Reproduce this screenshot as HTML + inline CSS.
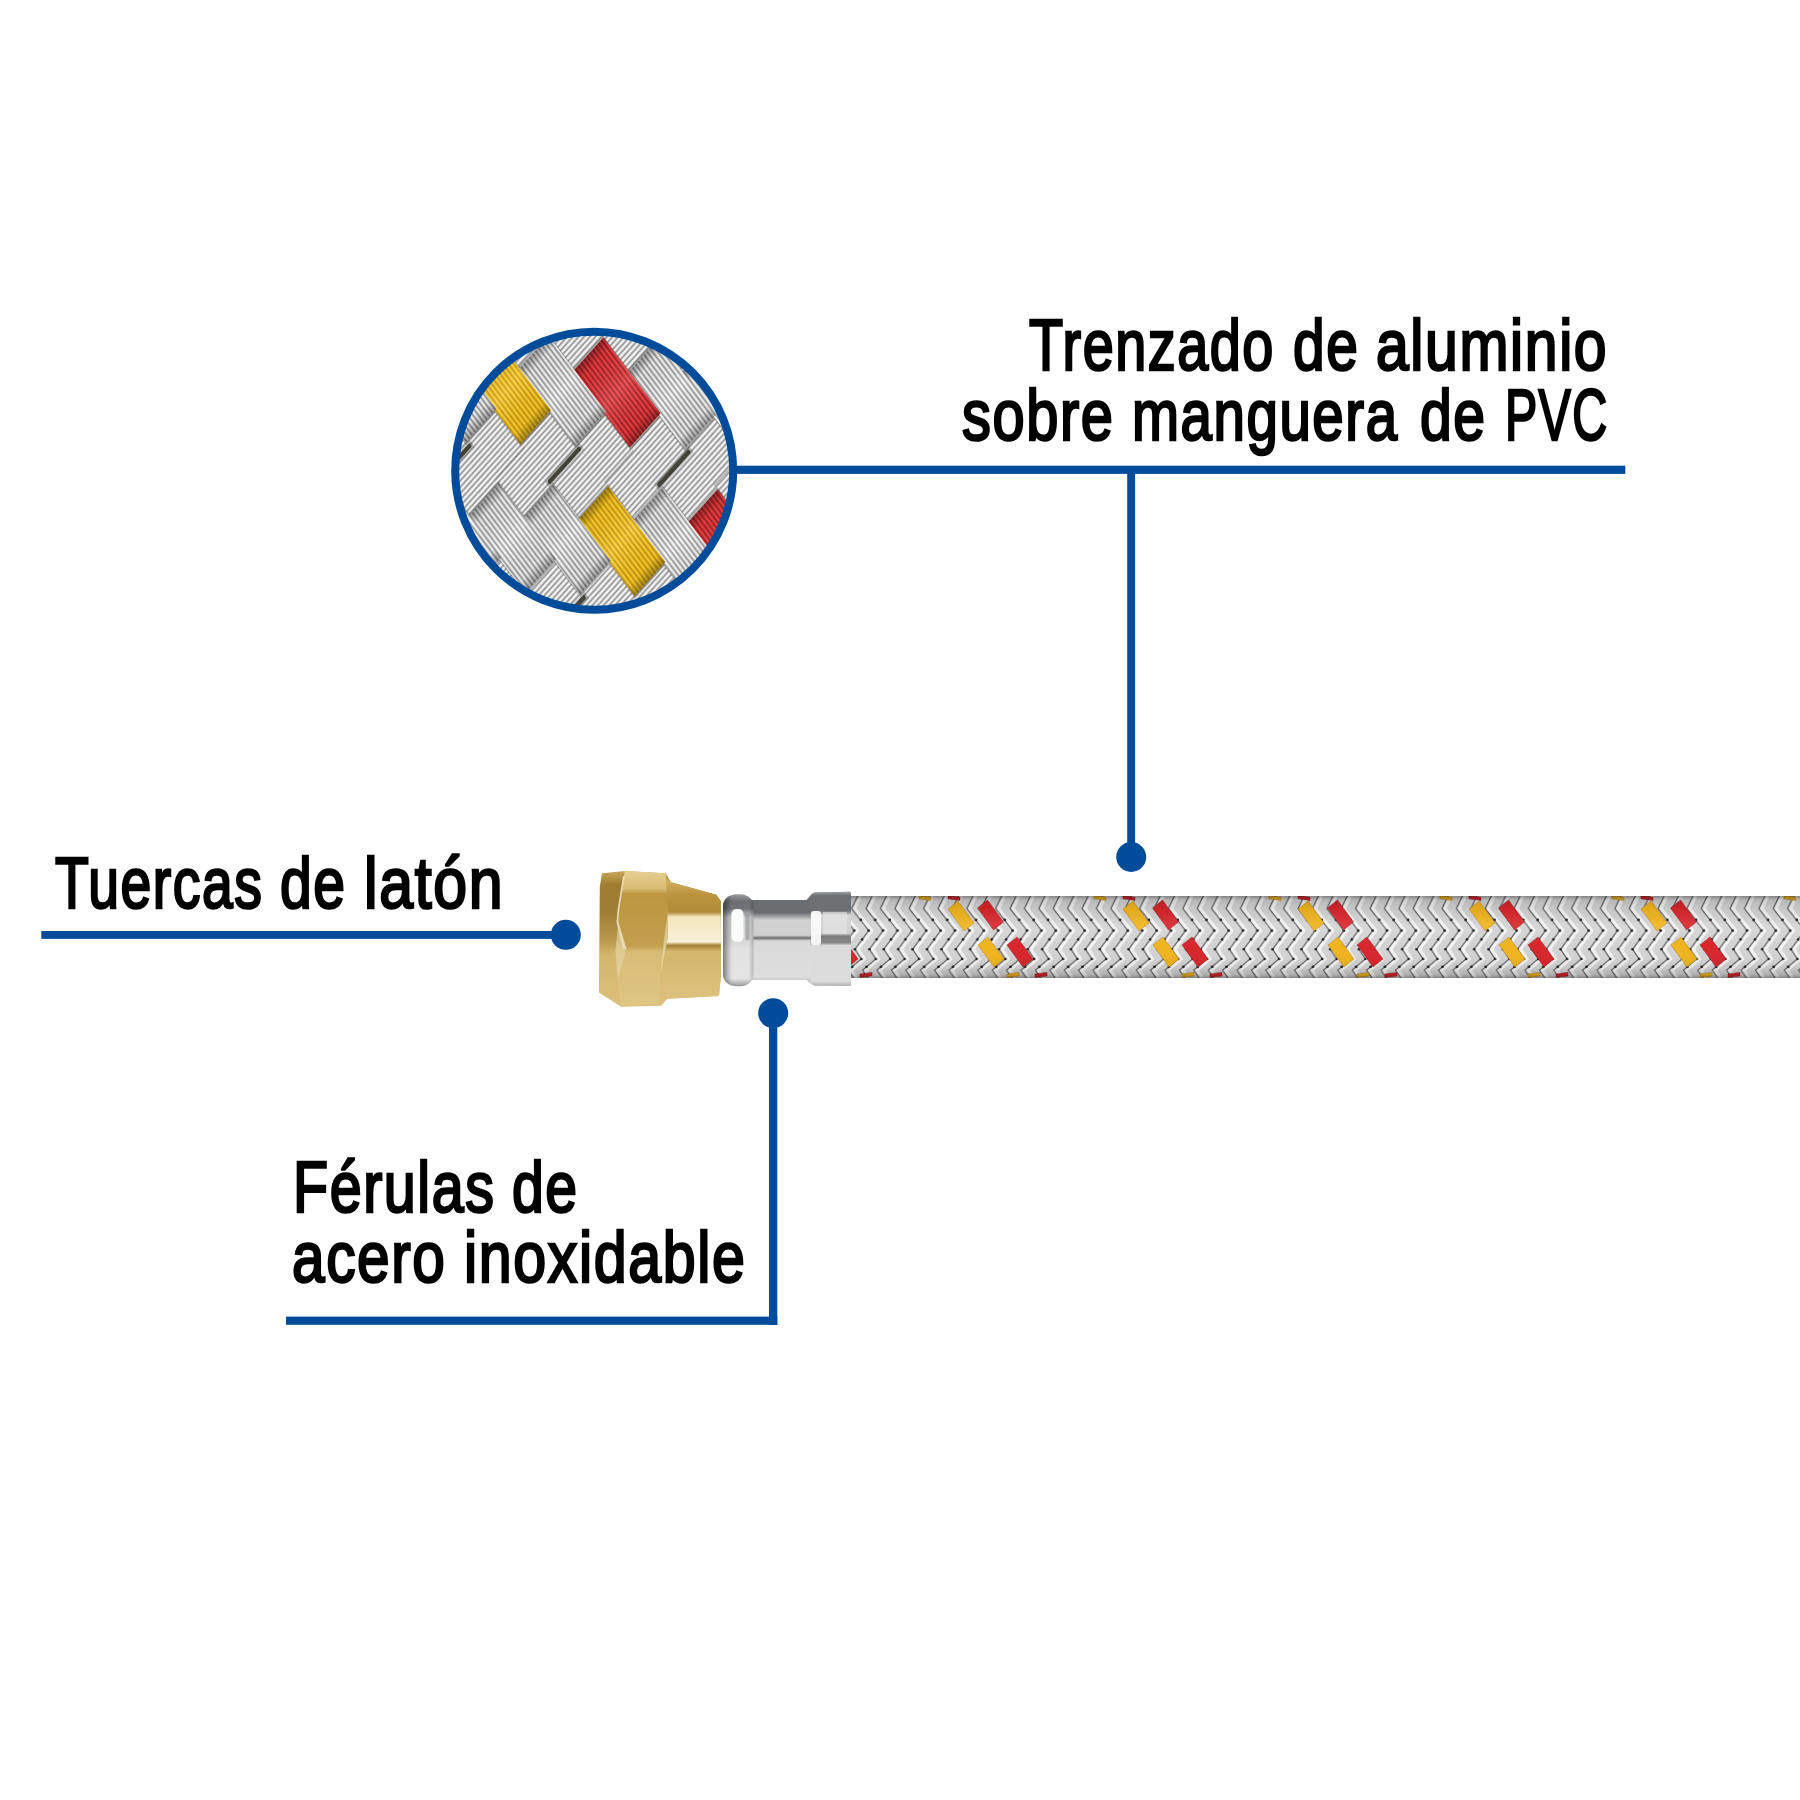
<!DOCTYPE html>
<html><head><meta charset="utf-8"><style>
html,body{margin:0;padding:0;background:#fff;}
body{width:1800px;height:1800px;position:relative;overflow:hidden;}
.t{position:absolute;font-family:"Liberation Sans",sans-serif;font-weight:normal;font-size:72.7px;line-height:72.7px;letter-spacing:2px;-webkit-text-stroke:2.6px #000;white-space:nowrap;color:#000;transform-origin:left top;}
svg{position:absolute;left:0;top:0;}
</style></head>
<body>
<svg width="1800" height="1800" viewBox="0 0 1800 1800">
<defs>
<clipPath id="cc"><circle cx="594.2" cy="470.7" r="139"/></clipPath>
<linearGradient id="floatg" x1="0" y1="0" x2="1" y2="0">
  <stop offset="0" stop-color="#000" stop-opacity="0.35"/>
  <stop offset="0.12" stop-color="#000" stop-opacity="0.05"/>
  <stop offset="0.5" stop-color="#fff" stop-opacity="0.12"/>
  <stop offset="0.88" stop-color="#000" stop-opacity="0.05"/>
  <stop offset="1" stop-color="#000" stop-opacity="0.35"/>
</linearGradient>
<linearGradient id="slitg" x1="0" y1="0" x2="1" y2="0">
  <stop offset="0" stop-color="#000" stop-opacity="0"/>
  <stop offset="0.5" stop-color="#000" stop-opacity="0.3"/>
  <stop offset="1" stop-color="#000" stop-opacity="0"/>
</linearGradient>
<linearGradient id="gx" x1="0" y1="0" x2="0" y2="1">
  <stop offset="0" stop-color="#6a6a6a"/><stop offset="0.22" stop-color="#d4d4d4"/><stop offset="0.45" stop-color="#fdfdfd"/><stop offset="0.8" stop-color="#dcdcdc"/><stop offset="1" stop-color="#6a6a6a"/>
</linearGradient>
<linearGradient id="gy" x1="0" y1="0" x2="1" y2="0">
  <stop offset="0" stop-color="#6a6a6a"/><stop offset="0.22" stop-color="#d4d4d4"/><stop offset="0.45" stop-color="#fdfdfd"/><stop offset="0.8" stop-color="#dcdcdc"/><stop offset="1" stop-color="#6a6a6a"/>
</linearGradient>
<linearGradient id="gxy" x1="0" y1="0" x2="0" y2="1">
  <stop offset="0" stop-color="#b8860c"/><stop offset="0.3" stop-color="#f2c11c"/><stop offset="0.5" stop-color="#fcd53a"/><stop offset="0.75" stop-color="#f0bd18"/><stop offset="1" stop-color="#b8860c"/>
</linearGradient>
<linearGradient id="gxr" x1="0" y1="0" x2="0" y2="1">
  <stop offset="0" stop-color="#8e1a1e"/><stop offset="0.3" stop-color="#dc3236"/><stop offset="0.5" stop-color="#ee4a4a"/><stop offset="0.75" stop-color="#d82e33"/><stop offset="1" stop-color="#8e1a1e"/>
</linearGradient>
<pattern id="rx" width="60" height="4.3" patternUnits="userSpaceOnUse"><rect width="60" height="4.3" fill="url(#gx)"/></pattern>
<pattern id="ry" width="4.3" height="60" patternUnits="userSpaceOnUse"><rect width="4.3" height="60" fill="url(#gy)"/></pattern>
<pattern id="rxy" width="60" height="4.3" patternUnits="userSpaceOnUse"><rect width="60" height="4.3" fill="url(#gxy)"/></pattern>
<pattern id="rxr" width="60" height="4.3" patternUnits="userSpaceOnUse"><rect width="60" height="4.3" fill="url(#gxr)"/></pattern>

<pattern id="hb" x="851.6" y="896" width="14.4" height="82" patternUnits="userSpaceOnUse">
  <rect width="14.4" height="82" fill="#d3d3d3"/>
  <g id="hbl">
  <path d="M9 0 L3 12.6 L20.1 34.6 L6.4 53.2 L12.8 63 L-0.4 74.2 L5 82" fill="none" stroke="#f3f3f3" stroke-width="3.2"/>
  <path d="M6 0 L0 12.6 L17.1 34.6 L3.4 53.2 L9.8 63 L-3.4 74.2 L2 82" fill="none" stroke="#5c5c5c" stroke-width="1.1"/>
  <g fill="#1f1f1f"><circle cx="9.3" cy="23.9" r="1.4"/><circle cx="17.1" cy="34.6" r="1.4"/><circle cx="10.6" cy="43.4" r="1.3"/><circle cx="3.4" cy="53.2" r="1.3"/><circle cx="9.8" cy="63" r="1.3"/><circle cx="0.6" cy="70.8" r="1.4"/></g>
  </g>
  <use href="#hbl" x="-14.4"/>
  <use href="#hbl" x="14.4"/>
</pattern>
<linearGradient id="hshade" x1="0" y1="0" x2="0" y2="1">
  <stop offset="0" stop-color="#000" stop-opacity="0.38"/>
  <stop offset="0.05" stop-color="#000" stop-opacity="0.14"/>
  <stop offset="0.15" stop-color="#000" stop-opacity="0.06"/>
  <stop offset="0.35" stop-color="#fff" stop-opacity="0.08"/>
  <stop offset="0.6" stop-color="#fff" stop-opacity="0"/>
  <stop offset="0.88" stop-color="#000" stop-opacity="0.06"/>
  <stop offset="0.96" stop-color="#000" stop-opacity="0.18"/>
  <stop offset="1" stop-color="#000" stop-opacity="0.38"/>
</linearGradient>
<clipPath id="hoseclip"><rect x="850.5" y="896" width="949.5" height="82"/></clipPath>
<linearGradient id="fg" x1="0" y1="892" x2="0" y2="986" gradientUnits="userSpaceOnUse">
  <stop offset="0" stop-color="#8d9194"/>
  <stop offset="0.05" stop-color="#6a6e71"/>
  <stop offset="0.22" stop-color="#686c6f"/>
  <stop offset="0.3" stop-color="#d2d2d2"/>
  <stop offset="0.46" stop-color="#cfcfcf"/>
  <stop offset="0.49" stop-color="#6f6f6f"/>
  <stop offset="0.52" stop-color="#d9d9d9"/>
  <stop offset="0.9" stop-color="#dedede"/>
  <stop offset="1" stop-color="#a9a9a9"/>
</linearGradient>
<linearGradient id="fbg" x1="0" y1="894" x2="0" y2="986" gradientUnits="userSpaceOnUse">
  <stop offset="0" stop-color="#9ca0a3"/>
  <stop offset="0.08" stop-color="#6c7073"/>
  <stop offset="0.16" stop-color="#71757a"/>
  <stop offset="0.26" stop-color="#cfd0d1"/>
  <stop offset="0.5" stop-color="#d6d6d6"/>
  <stop offset="0.6" stop-color="#e2e2e2"/>
  <stop offset="0.92" stop-color="#e4e4e4"/>
  <stop offset="1" stop-color="#9a9a9a"/>
</linearGradient>
<linearGradient id="fbx" x1="723" y1="0" x2="753.5" y2="0" gradientUnits="userSpaceOnUse">
  <stop offset="0" stop-color="#000" stop-opacity="0.45"/>
  <stop offset="0.18" stop-color="#000" stop-opacity="0.15"/>
  <stop offset="0.3" stop-color="#000" stop-opacity="0"/>
  <stop offset="0.85" stop-color="#000" stop-opacity="0"/>
  <stop offset="1" stop-color="#000" stop-opacity="0.2"/>
</linearGradient>
<linearGradient id="fgc" x1="0" y1="892" x2="0" y2="986" gradientUnits="userSpaceOnUse">
  <stop offset="0" stop-color="#9a9ea0"/>
  <stop offset="0.04" stop-color="#6c7073"/>
  <stop offset="0.2" stop-color="#6c7073"/>
  <stop offset="0.25" stop-color="#d8d8d8"/>
  <stop offset="0.44" stop-color="#d0d0d0"/>
  <stop offset="0.47" stop-color="#7b7b7b"/>
  <stop offset="0.54" stop-color="#8a8a8a"/>
  <stop offset="0.57" stop-color="#dadada"/>
  <stop offset="0.95" stop-color="#dcdcdc"/>
  <stop offset="1" stop-color="#b0b0b0"/>
</linearGradient>

<linearGradient id="ng" x1="0" y1="871" x2="0" y2="1007" gradientUnits="userSpaceOnUse">
  <stop offset="0" stop-color="#c9a75a"/>
  <stop offset="0.1" stop-color="#a07e30"/>
  <stop offset="0.3" stop-color="#9e7d35"/>
  <stop offset="0.5" stop-color="#b8964a"/>
  <stop offset="0.62" stop-color="#d4b66c"/>
  <stop offset="1" stop-color="#dcc07c"/>
</linearGradient>
<linearGradient id="ncone" x1="0" y1="880" x2="0" y2="999" gradientUnits="userSpaceOnUse">
  <stop offset="0" stop-color="#d4b263"/>
  <stop offset="0.12" stop-color="#bc9440"/>
  <stop offset="0.27" stop-color="#b08a36"/>
  <stop offset="0.31" stop-color="#f3e6bd"/>
  <stop offset="0.52" stop-color="#f8f0d8"/>
  <stop offset="0.55" stop-color="#a48034"/>
  <stop offset="0.6" stop-color="#d4b66c"/>
  <stop offset="1" stop-color="#ddc27e"/>
</linearGradient>
<linearGradient id="nhex" x1="0" y1="871" x2="0" y2="1007" gradientUnits="userSpaceOnUse">
  <stop offset="0" stop-color="#e6cf92"/>
  <stop offset="0.13" stop-color="#d8bb74"/>
  <stop offset="0.17" stop-color="#bd973f"/>
  <stop offset="0.55" stop-color="#c29f4e"/>
  <stop offset="0.6" stop-color="#d9bd76"/>
  <stop offset="1" stop-color="#dfc685"/>
</linearGradient>
</defs>

<g fill="#004c9a">
<rect x="737" y="465.7" width="888.3" height="8.2"/>
<rect x="1127.2" y="470" width="7.9" height="388"/>
<circle cx="1131.2" cy="857" r="15"/>
<rect x="41.3" y="931" width="525" height="7.9"/>
<circle cx="565.8" cy="934.8" r="15"/>
<rect x="769" y="1013" width="8.3" height="311.8"/>
<rect x="286" y="1316.6" width="491.3" height="8.2"/>
<circle cx="773.2" cy="1013.2" r="15"/>
</g>

<g clip-path="url(#cc)"><g transform="matrix(0.6018 0.7986 -0.6691 0.7431 594.2 470.7)">
<rect x="-260" y="-260" width="520" height="520" fill="url(#ry)"/>
<rect x="-109.8" y="-306" width="2" height="43.6" fill="#777" opacity="0.45"/>
<rect x="80.2" y="-306" width="2" height="43.6" fill="#777" opacity="0.45"/>
<rect x="270.2" y="-306" width="2" height="43.6" fill="#777" opacity="0.45"/>
<rect x="-157.3" y="-266.4" width="12" height="51.6" fill="url(#slitg)"/>
<rect x="-153.5" y="-264.4" width="4.4" height="47.6" rx="1.5" fill="#3a3a30" opacity="0.9"/>
<rect x="32.7" y="-266.4" width="12" height="51.6" fill="url(#slitg)"/>
<rect x="36.5" y="-264.4" width="4.4" height="47.6" rx="1.5" fill="#3a3a30" opacity="0.9"/>
<rect x="222.7" y="-266.4" width="12" height="51.6" fill="url(#slitg)"/>
<rect x="226.5" y="-264.4" width="4.4" height="47.6" rx="1.5" fill="#3a3a30" opacity="0.9"/>
<rect x="-194.8" y="-218.8" width="2" height="43.6" fill="#777" opacity="0.45"/>
<rect x="-4.8" y="-218.8" width="2" height="43.6" fill="#777" opacity="0.45"/>
<rect x="185.2" y="-218.8" width="2" height="43.6" fill="#777" opacity="0.45"/>
<rect x="375.2" y="-218.8" width="2" height="43.6" fill="#777" opacity="0.45"/>
<rect x="-52.3" y="-179.2" width="12" height="51.6" fill="url(#slitg)"/>
<rect x="-48.5" y="-177.2" width="4.4" height="47.6" rx="1.5" fill="#3a3a30" opacity="0.9"/>
<rect x="137.7" y="-179.2" width="12" height="51.6" fill="url(#slitg)"/>
<rect x="141.5" y="-177.2" width="4.4" height="47.6" rx="1.5" fill="#3a3a30" opacity="0.9"/>
<rect x="327.7" y="-179.2" width="12" height="51.6" fill="url(#slitg)"/>
<rect x="331.5" y="-177.2" width="4.4" height="47.6" rx="1.5" fill="#3a3a30" opacity="0.9"/>
<rect x="-89.8" y="-131.6" width="2" height="43.6" fill="#777" opacity="0.45"/>
<rect x="100.2" y="-131.6" width="2" height="43.6" fill="#777" opacity="0.45"/>
<rect x="290.2" y="-131.6" width="2" height="43.6" fill="#777" opacity="0.45"/>
<rect x="-137.3" y="-92" width="12" height="51.6" fill="url(#slitg)"/>
<rect x="-133.5" y="-90" width="4.4" height="47.6" rx="1.5" fill="#3a3a30" opacity="0.9"/>
<rect x="52.7" y="-92" width="12" height="51.6" fill="url(#slitg)"/>
<rect x="56.5" y="-90" width="4.4" height="47.6" rx="1.5" fill="#3a3a30" opacity="0.9"/>
<rect x="242.7" y="-92" width="12" height="51.6" fill="url(#slitg)"/>
<rect x="246.5" y="-90" width="4.4" height="47.6" rx="1.5" fill="#3a3a30" opacity="0.9"/>
<rect x="-174.8" y="-44.4" width="2" height="43.6" fill="#777" opacity="0.45"/>
<rect x="15.2" y="-44.4" width="2" height="43.6" fill="#777" opacity="0.45"/>
<rect x="205.2" y="-44.4" width="2" height="43.6" fill="#777" opacity="0.45"/>
<rect x="-32.3" y="-4.8" width="12" height="51.6" fill="url(#slitg)"/>
<rect x="-28.5" y="-2.8" width="4.4" height="47.6" rx="1.5" fill="#3a3a30" opacity="0.9"/>
<rect x="157.7" y="-4.8" width="12" height="51.6" fill="url(#slitg)"/>
<rect x="161.5" y="-2.8" width="4.4" height="47.6" rx="1.5" fill="#3a3a30" opacity="0.9"/>
<rect x="347.7" y="-4.8" width="12" height="51.6" fill="url(#slitg)"/>
<rect x="351.5" y="-2.8" width="4.4" height="47.6" rx="1.5" fill="#3a3a30" opacity="0.9"/>
<rect x="-69.8" y="42.8" width="2" height="43.6" fill="#777" opacity="0.45"/>
<rect x="120.2" y="42.8" width="2" height="43.6" fill="#777" opacity="0.45"/>
<rect x="310.2" y="42.8" width="2" height="43.6" fill="#777" opacity="0.45"/>
<rect x="-117.3" y="82.4" width="12" height="51.6" fill="url(#slitg)"/>
<rect x="-113.5" y="84.4" width="4.4" height="47.6" rx="1.5" fill="#3a3a30" opacity="0.9"/>
<rect x="72.7" y="82.4" width="12" height="51.6" fill="url(#slitg)"/>
<rect x="76.5" y="84.4" width="4.4" height="47.6" rx="1.5" fill="#3a3a30" opacity="0.9"/>
<rect x="262.7" y="82.4" width="12" height="51.6" fill="url(#slitg)"/>
<rect x="266.5" y="84.4" width="4.4" height="47.6" rx="1.5" fill="#3a3a30" opacity="0.9"/>
<rect x="-154.8" y="130" width="2" height="43.6" fill="#777" opacity="0.45"/>
<rect x="35.2" y="130" width="2" height="43.6" fill="#777" opacity="0.45"/>
<rect x="225.2" y="130" width="2" height="43.6" fill="#777" opacity="0.45"/>
<rect x="-202.3" y="169.6" width="12" height="51.6" fill="url(#slitg)"/>
<rect x="-198.5" y="171.6" width="4.4" height="47.6" rx="1.5" fill="#3a3a30" opacity="0.9"/>
<rect x="-12.3" y="169.6" width="12" height="51.6" fill="url(#slitg)"/>
<rect x="-8.5" y="171.6" width="4.4" height="47.6" rx="1.5" fill="#3a3a30" opacity="0.9"/>
<rect x="177.7" y="169.6" width="12" height="51.6" fill="url(#slitg)"/>
<rect x="181.5" y="171.6" width="4.4" height="47.6" rx="1.5" fill="#3a3a30" opacity="0.9"/>
<rect x="367.7" y="169.6" width="12" height="51.6" fill="url(#slitg)"/>
<rect x="371.5" y="171.6" width="4.4" height="47.6" rx="1.5" fill="#3a3a30" opacity="0.9"/>
<rect x="-49.8" y="217.2" width="2" height="43.6" fill="#777" opacity="0.45"/>
<rect x="140.2" y="217.2" width="2" height="43.6" fill="#777" opacity="0.45"/>
<rect x="330.2" y="217.2" width="2" height="43.6" fill="#777" opacity="0.45"/>
<rect x="-97.3" y="256.8" width="12" height="51.6" fill="url(#slitg)"/>
<rect x="-93.5" y="258.8" width="4.4" height="47.6" rx="1.5" fill="#3a3a30" opacity="0.9"/>
<rect x="92.7" y="256.8" width="12" height="51.6" fill="url(#slitg)"/>
<rect x="96.5" y="258.8" width="4.4" height="47.6" rx="1.5" fill="#3a3a30" opacity="0.9"/>
<rect x="282.7" y="256.8" width="12" height="51.6" fill="url(#slitg)"/>
<rect x="286.5" y="258.8" width="4.4" height="47.6" rx="1.5" fill="#3a3a30" opacity="0.9"/>
<rect x="-134.8" y="304.4" width="2" height="43.6" fill="#777" opacity="0.45"/>
<rect x="55.2" y="304.4" width="2" height="43.6" fill="#777" opacity="0.45"/>
<rect x="245.2" y="304.4" width="2" height="43.6" fill="#777" opacity="0.45"/>
<rect x="-253.3" y="-308.2" width="99" height="48" fill="#5a5a5a" opacity="0.45"/>
<rect x="-63.3" y="-308.2" width="99" height="48" fill="#5a5a5a" opacity="0.45"/>
<rect x="126.7" y="-308.2" width="99" height="48" fill="#5a5a5a" opacity="0.45"/>
<rect x="-295.8" y="-264.6" width="99" height="48" fill="#5a5a5a" opacity="0.45"/>
<rect x="-105.8" y="-264.6" width="99" height="48" fill="#5a5a5a" opacity="0.45"/>
<rect x="84.2" y="-264.6" width="99" height="48" fill="#5a5a5a" opacity="0.45"/>
<rect x="-338.3" y="-221" width="99" height="48" fill="#5a5a5a" opacity="0.45"/>
<rect x="-148.3" y="-221" width="99" height="48" fill="#5a5a5a" opacity="0.45"/>
<rect x="41.7" y="-221" width="99" height="48" fill="#5a5a5a" opacity="0.45"/>
<rect x="231.7" y="-221" width="99" height="48" fill="#5a5a5a" opacity="0.45"/>
<rect x="-190.8" y="-177.4" width="99" height="48" fill="#5a5a5a" opacity="0.45"/>
<rect x="-0.8" y="-177.4" width="99" height="48" fill="#5a5a5a" opacity="0.45"/>
<rect x="189.2" y="-177.4" width="99" height="48" fill="#5a5a5a" opacity="0.45"/>
<rect x="-233.3" y="-133.8" width="99" height="48" fill="#5a5a5a" opacity="0.45"/>
<rect x="-43.3" y="-133.8" width="99" height="48" fill="#5a5a5a" opacity="0.45"/>
<rect x="146.7" y="-133.8" width="99" height="48" fill="#5a5a5a" opacity="0.45"/>
<rect x="-275.8" y="-90.2" width="99" height="48" fill="#5a5a5a" opacity="0.45"/>
<rect x="-85.8" y="-90.2" width="99" height="48" fill="#5a5a5a" opacity="0.45"/>
<rect x="104.2" y="-90.2" width="99" height="48" fill="#5a5a5a" opacity="0.45"/>
<rect x="-318.3" y="-46.6" width="99" height="48" fill="#5a5a5a" opacity="0.45"/>
<rect x="-128.3" y="-46.6" width="99" height="48" fill="#5a5a5a" opacity="0.45"/>
<rect x="61.7" y="-46.6" width="99" height="48" fill="#5a5a5a" opacity="0.45"/>
<rect x="-170.8" y="-3" width="99" height="48" fill="#5a5a5a" opacity="0.45"/>
<rect x="19.2" y="-3" width="99" height="48" fill="#5a5a5a" opacity="0.45"/>
<rect x="209.2" y="-3" width="99" height="48" fill="#5a5a5a" opacity="0.45"/>
<rect x="-213.3" y="40.6" width="99" height="48" fill="#5a5a5a" opacity="0.45"/>
<rect x="-23.3" y="40.6" width="99" height="48" fill="#5a5a5a" opacity="0.45"/>
<rect x="166.7" y="40.6" width="99" height="48" fill="#5a5a5a" opacity="0.45"/>
<rect x="-255.8" y="84.2" width="99" height="48" fill="#5a5a5a" opacity="0.45"/>
<rect x="-65.8" y="84.2" width="99" height="48" fill="#5a5a5a" opacity="0.45"/>
<rect x="124.2" y="84.2" width="99" height="48" fill="#5a5a5a" opacity="0.45"/>
<rect x="-298.3" y="127.8" width="99" height="48" fill="#5a5a5a" opacity="0.45"/>
<rect x="-108.3" y="127.8" width="99" height="48" fill="#5a5a5a" opacity="0.45"/>
<rect x="81.7" y="127.8" width="99" height="48" fill="#5a5a5a" opacity="0.45"/>
<rect x="-340.8" y="171.4" width="99" height="48" fill="#5a5a5a" opacity="0.45"/>
<rect x="-150.8" y="171.4" width="99" height="48" fill="#5a5a5a" opacity="0.45"/>
<rect x="39.2" y="171.4" width="99" height="48" fill="#5a5a5a" opacity="0.45"/>
<rect x="229.2" y="171.4" width="99" height="48" fill="#5a5a5a" opacity="0.45"/>
<rect x="-193.3" y="215" width="99" height="48" fill="#5a5a5a" opacity="0.45"/>
<rect x="-3.3" y="215" width="99" height="48" fill="#5a5a5a" opacity="0.45"/>
<rect x="186.7" y="215" width="99" height="48" fill="#5a5a5a" opacity="0.45"/>
<rect x="-235.8" y="258.6" width="99" height="48" fill="#5a5a5a" opacity="0.45"/>
<rect x="-45.8" y="258.6" width="99" height="48" fill="#5a5a5a" opacity="0.45"/>
<rect x="144.2" y="258.6" width="99" height="48" fill="#5a5a5a" opacity="0.45"/>
<rect x="-278.3" y="302.2" width="99" height="48" fill="#5a5a5a" opacity="0.45"/>
<rect x="-88.3" y="302.2" width="99" height="48" fill="#5a5a5a" opacity="0.45"/>
<rect x="101.7" y="302.2" width="99" height="48" fill="#5a5a5a" opacity="0.45"/>
<rect x="-251.3" y="-307.2" width="95" height="46" fill="url(#rx)"/>
<rect x="-251.3" y="-307.2" width="95" height="46" fill="url(#floatg)"/>
<rect x="-61.3" y="-307.2" width="95" height="46" fill="url(#rx)"/>
<rect x="-61.3" y="-307.2" width="95" height="46" fill="url(#floatg)"/>
<rect x="128.7" y="-307.2" width="95" height="46" fill="url(#rx)"/>
<rect x="128.7" y="-307.2" width="95" height="46" fill="url(#floatg)"/>
<rect x="-293.8" y="-263.6" width="95" height="46" fill="url(#rx)"/>
<rect x="-293.8" y="-263.6" width="95" height="46" fill="url(#floatg)"/>
<rect x="-103.8" y="-263.6" width="95" height="46" fill="url(#rx)"/>
<rect x="-103.8" y="-263.6" width="95" height="46" fill="url(#floatg)"/>
<rect x="86.2" y="-263.6" width="95" height="46" fill="url(#rx)"/>
<rect x="86.2" y="-263.6" width="95" height="46" fill="url(#floatg)"/>
<rect x="-336.3" y="-220" width="95" height="46" fill="url(#rx)"/>
<rect x="-336.3" y="-220" width="95" height="46" fill="url(#floatg)"/>
<rect x="-146.3" y="-220" width="95" height="46" fill="url(#rx)"/>
<rect x="-146.3" y="-220" width="95" height="46" fill="url(#floatg)"/>
<rect x="43.7" y="-220" width="95" height="46" fill="url(#rx)"/>
<rect x="43.7" y="-220" width="95" height="46" fill="url(#floatg)"/>
<rect x="233.7" y="-220" width="95" height="46" fill="url(#rx)"/>
<rect x="233.7" y="-220" width="95" height="46" fill="url(#floatg)"/>
<rect x="-188.8" y="-176.4" width="95" height="46" fill="url(#rx)"/>
<rect x="-188.8" y="-176.4" width="95" height="46" fill="url(#floatg)"/>
<rect x="1.2" y="-176.4" width="95" height="46" fill="url(#rx)"/>
<rect x="1.2" y="-176.4" width="95" height="46" fill="url(#floatg)"/>
<rect x="191.2" y="-176.4" width="95" height="46" fill="url(#rx)"/>
<rect x="191.2" y="-176.4" width="95" height="46" fill="url(#floatg)"/>
<rect x="-231.3" y="-132.8" width="95" height="46" fill="url(#rx)"/>
<rect x="-231.3" y="-132.8" width="95" height="46" fill="url(#floatg)"/>
<rect x="-41.3" y="-132.8" width="95" height="46" fill="url(#rx)"/>
<rect x="-41.3" y="-132.8" width="95" height="46" fill="url(#floatg)"/>
<rect x="148.7" y="-132.8" width="95" height="46" fill="url(#rx)"/>
<rect x="148.7" y="-132.8" width="95" height="46" fill="url(#floatg)"/>
<rect x="-273.8" y="-89.2" width="95" height="46" fill="url(#rxr)"/>
<rect x="-273.8" y="-89.2" width="95" height="46" fill="url(#floatg)"/>
<rect x="-83.8" y="-89.2" width="95" height="46" fill="url(#rxr)"/>
<rect x="-83.8" y="-89.2" width="95" height="46" fill="url(#floatg)"/>
<rect x="106.2" y="-89.2" width="95" height="46" fill="url(#rxr)"/>
<rect x="106.2" y="-89.2" width="95" height="46" fill="url(#floatg)"/>
<rect x="-316.3" y="-45.6" width="95" height="46" fill="url(#rx)"/>
<rect x="-316.3" y="-45.6" width="95" height="46" fill="url(#floatg)"/>
<rect x="-126.3" y="-45.6" width="95" height="46" fill="url(#rx)"/>
<rect x="-126.3" y="-45.6" width="95" height="46" fill="url(#floatg)"/>
<rect x="63.7" y="-45.6" width="95" height="46" fill="url(#rx)"/>
<rect x="63.7" y="-45.6" width="95" height="46" fill="url(#floatg)"/>
<rect x="-168.8" y="-2" width="95" height="46" fill="url(#rxy)"/>
<rect x="-168.8" y="-2" width="95" height="46" fill="url(#floatg)"/>
<rect x="21.2" y="-2" width="95" height="46" fill="url(#rxy)"/>
<rect x="21.2" y="-2" width="95" height="46" fill="url(#floatg)"/>
<rect x="211.2" y="-2" width="95" height="46" fill="url(#rxy)"/>
<rect x="211.2" y="-2" width="95" height="46" fill="url(#floatg)"/>
<rect x="-211.3" y="41.6" width="95" height="46" fill="url(#rx)"/>
<rect x="-211.3" y="41.6" width="95" height="46" fill="url(#floatg)"/>
<rect x="-21.3" y="41.6" width="95" height="46" fill="url(#rx)"/>
<rect x="-21.3" y="41.6" width="95" height="46" fill="url(#floatg)"/>
<rect x="168.7" y="41.6" width="95" height="46" fill="url(#rx)"/>
<rect x="168.7" y="41.6" width="95" height="46" fill="url(#floatg)"/>
<rect x="-253.8" y="85.2" width="95" height="46" fill="url(#rx)"/>
<rect x="-253.8" y="85.2" width="95" height="46" fill="url(#floatg)"/>
<rect x="-63.8" y="85.2" width="95" height="46" fill="url(#rx)"/>
<rect x="-63.8" y="85.2" width="95" height="46" fill="url(#floatg)"/>
<rect x="126.2" y="85.2" width="95" height="46" fill="url(#rx)"/>
<rect x="126.2" y="85.2" width="95" height="46" fill="url(#floatg)"/>
<rect x="-296.3" y="128.8" width="95" height="46" fill="url(#rx)"/>
<rect x="-296.3" y="128.8" width="95" height="46" fill="url(#floatg)"/>
<rect x="-106.3" y="128.8" width="95" height="46" fill="url(#rx)"/>
<rect x="-106.3" y="128.8" width="95" height="46" fill="url(#floatg)"/>
<rect x="83.7" y="128.8" width="95" height="46" fill="url(#rx)"/>
<rect x="83.7" y="128.8" width="95" height="46" fill="url(#floatg)"/>
<rect x="-338.8" y="172.4" width="95" height="46" fill="url(#rx)"/>
<rect x="-338.8" y="172.4" width="95" height="46" fill="url(#floatg)"/>
<rect x="-148.8" y="172.4" width="95" height="46" fill="url(#rx)"/>
<rect x="-148.8" y="172.4" width="95" height="46" fill="url(#floatg)"/>
<rect x="41.2" y="172.4" width="95" height="46" fill="url(#rx)"/>
<rect x="41.2" y="172.4" width="95" height="46" fill="url(#floatg)"/>
<rect x="231.2" y="172.4" width="95" height="46" fill="url(#rx)"/>
<rect x="231.2" y="172.4" width="95" height="46" fill="url(#floatg)"/>
<rect x="-191.3" y="216" width="95" height="46" fill="url(#rx)"/>
<rect x="-191.3" y="216" width="95" height="46" fill="url(#floatg)"/>
<rect x="-1.3" y="216" width="95" height="46" fill="url(#rx)"/>
<rect x="-1.3" y="216" width="95" height="46" fill="url(#floatg)"/>
<rect x="188.7" y="216" width="95" height="46" fill="url(#rx)"/>
<rect x="188.7" y="216" width="95" height="46" fill="url(#floatg)"/>
<rect x="-233.8" y="259.6" width="95" height="46" fill="url(#rx)"/>
<rect x="-233.8" y="259.6" width="95" height="46" fill="url(#floatg)"/>
<rect x="-43.8" y="259.6" width="95" height="46" fill="url(#rx)"/>
<rect x="-43.8" y="259.6" width="95" height="46" fill="url(#floatg)"/>
<rect x="146.2" y="259.6" width="95" height="46" fill="url(#rx)"/>
<rect x="146.2" y="259.6" width="95" height="46" fill="url(#floatg)"/>
<rect x="-276.3" y="303.2" width="95" height="46" fill="url(#rx)"/>
<rect x="-276.3" y="303.2" width="95" height="46" fill="url(#floatg)"/>
<rect x="-86.3" y="303.2" width="95" height="46" fill="url(#rx)"/>
<rect x="-86.3" y="303.2" width="95" height="46" fill="url(#floatg)"/>
<rect x="103.7" y="303.2" width="95" height="46" fill="url(#rx)"/>
<rect x="103.7" y="303.2" width="95" height="46" fill="url(#floatg)"/>
</g></g>
<circle cx="594.2" cy="470.7" r="139" fill="none" stroke="#004c9a" stroke-width="8"/>
<g clip-path="url(#hoseclip)"><rect x="850.5" y="896" width="949.5" height="82" fill="url(#hb)"/>
<polygon points="773,909 783,901 799,923 789,931" fill="#f0b41e" stroke="#b07a10" stroke-width="0.8" stroke-opacity="0.6"/>
<polygon points="802.5,908 812.5,900 828.5,922 818.5,930" fill="#d8262c" stroke="#8e1a1c" stroke-width="0.8" stroke-opacity="0.6"/>
<polygon points="803,945 813,937 829,959 819,967" fill="#f0b41e" stroke="#b07a10" stroke-width="0.8" stroke-opacity="0.6"/>
<polygon points="832,945 842,937 858,959 848,967" fill="#d8262c" stroke="#8e1a1c" stroke-width="0.8" stroke-opacity="0.6"/>
<polygon points="744,895.6 744,898.8 756,900.4 756,897.2" fill="#f0b41e" stroke="#b07a10" stroke-width="0.8" stroke-opacity="0.6"/>
<polygon points="773,895.6 773,898.8 785,900.4 785,897.2" fill="#d8262c" stroke="#8e1a1c" stroke-width="0.8" stroke-opacity="0.6"/>
<polygon points="832,974 832,977.6 844,976 844,972.4" fill="#f0b41e" stroke="#b07a10" stroke-width="0.8" stroke-opacity="0.6"/>
<polygon points="860,974 860,977.6 872,976 872,972.4" fill="#d8262c" stroke="#8e1a1c" stroke-width="0.8" stroke-opacity="0.6"/>
<polygon points="948,909 958,901 974,923 964,931" fill="#f0b41e" stroke="#b07a10" stroke-width="0.8" stroke-opacity="0.6"/>
<polygon points="977.5,908 987.5,900 1003.5,922 993.5,930" fill="#d8262c" stroke="#8e1a1c" stroke-width="0.8" stroke-opacity="0.6"/>
<polygon points="978,945 988,937 1004,959 994,967" fill="#f0b41e" stroke="#b07a10" stroke-width="0.8" stroke-opacity="0.6"/>
<polygon points="1007,945 1017,937 1033,959 1023,967" fill="#d8262c" stroke="#8e1a1c" stroke-width="0.8" stroke-opacity="0.6"/>
<polygon points="919,895.6 919,898.8 931,900.4 931,897.2" fill="#f0b41e" stroke="#b07a10" stroke-width="0.8" stroke-opacity="0.6"/>
<polygon points="948,895.6 948,898.8 960,900.4 960,897.2" fill="#d8262c" stroke="#8e1a1c" stroke-width="0.8" stroke-opacity="0.6"/>
<polygon points="1007,974 1007,977.6 1019,976 1019,972.4" fill="#f0b41e" stroke="#b07a10" stroke-width="0.8" stroke-opacity="0.6"/>
<polygon points="1035,974 1035,977.6 1047,976 1047,972.4" fill="#d8262c" stroke="#8e1a1c" stroke-width="0.8" stroke-opacity="0.6"/>
<polygon points="1123,909 1133,901 1149,923 1139,931" fill="#f0b41e" stroke="#b07a10" stroke-width="0.8" stroke-opacity="0.6"/>
<polygon points="1152.5,908 1162.5,900 1178.5,922 1168.5,930" fill="#d8262c" stroke="#8e1a1c" stroke-width="0.8" stroke-opacity="0.6"/>
<polygon points="1153,945 1163,937 1179,959 1169,967" fill="#f0b41e" stroke="#b07a10" stroke-width="0.8" stroke-opacity="0.6"/>
<polygon points="1182,945 1192,937 1208,959 1198,967" fill="#d8262c" stroke="#8e1a1c" stroke-width="0.8" stroke-opacity="0.6"/>
<polygon points="1094,895.6 1094,898.8 1106,900.4 1106,897.2" fill="#f0b41e" stroke="#b07a10" stroke-width="0.8" stroke-opacity="0.6"/>
<polygon points="1123,895.6 1123,898.8 1135,900.4 1135,897.2" fill="#d8262c" stroke="#8e1a1c" stroke-width="0.8" stroke-opacity="0.6"/>
<polygon points="1182,974 1182,977.6 1194,976 1194,972.4" fill="#f0b41e" stroke="#b07a10" stroke-width="0.8" stroke-opacity="0.6"/>
<polygon points="1210,974 1210,977.6 1222,976 1222,972.4" fill="#d8262c" stroke="#8e1a1c" stroke-width="0.8" stroke-opacity="0.6"/>
<polygon points="1298,909 1308,901 1324,923 1314,931" fill="#f0b41e" stroke="#b07a10" stroke-width="0.8" stroke-opacity="0.6"/>
<polygon points="1327.5,908 1337.5,900 1353.5,922 1343.5,930" fill="#d8262c" stroke="#8e1a1c" stroke-width="0.8" stroke-opacity="0.6"/>
<polygon points="1328,945 1338,937 1354,959 1344,967" fill="#f0b41e" stroke="#b07a10" stroke-width="0.8" stroke-opacity="0.6"/>
<polygon points="1357,945 1367,937 1383,959 1373,967" fill="#d8262c" stroke="#8e1a1c" stroke-width="0.8" stroke-opacity="0.6"/>
<polygon points="1269,895.6 1269,898.8 1281,900.4 1281,897.2" fill="#f0b41e" stroke="#b07a10" stroke-width="0.8" stroke-opacity="0.6"/>
<polygon points="1298,895.6 1298,898.8 1310,900.4 1310,897.2" fill="#d8262c" stroke="#8e1a1c" stroke-width="0.8" stroke-opacity="0.6"/>
<polygon points="1357,974 1357,977.6 1369,976 1369,972.4" fill="#f0b41e" stroke="#b07a10" stroke-width="0.8" stroke-opacity="0.6"/>
<polygon points="1385,974 1385,977.6 1397,976 1397,972.4" fill="#d8262c" stroke="#8e1a1c" stroke-width="0.8" stroke-opacity="0.6"/>
<polygon points="1469,909 1479,901 1495,923 1485,931" fill="#f0b41e" stroke="#b07a10" stroke-width="0.8" stroke-opacity="0.6"/>
<polygon points="1498.5,908 1508.5,900 1524.5,922 1514.5,930" fill="#d8262c" stroke="#8e1a1c" stroke-width="0.8" stroke-opacity="0.6"/>
<polygon points="1499,945 1509,937 1525,959 1515,967" fill="#f0b41e" stroke="#b07a10" stroke-width="0.8" stroke-opacity="0.6"/>
<polygon points="1528,945 1538,937 1554,959 1544,967" fill="#d8262c" stroke="#8e1a1c" stroke-width="0.8" stroke-opacity="0.6"/>
<polygon points="1440,895.6 1440,898.8 1452,900.4 1452,897.2" fill="#f0b41e" stroke="#b07a10" stroke-width="0.8" stroke-opacity="0.6"/>
<polygon points="1469,895.6 1469,898.8 1481,900.4 1481,897.2" fill="#d8262c" stroke="#8e1a1c" stroke-width="0.8" stroke-opacity="0.6"/>
<polygon points="1528,974 1528,977.6 1540,976 1540,972.4" fill="#f0b41e" stroke="#b07a10" stroke-width="0.8" stroke-opacity="0.6"/>
<polygon points="1556,974 1556,977.6 1568,976 1568,972.4" fill="#d8262c" stroke="#8e1a1c" stroke-width="0.8" stroke-opacity="0.6"/>
<polygon points="1641,909 1651,901 1667,923 1657,931" fill="#f0b41e" stroke="#b07a10" stroke-width="0.8" stroke-opacity="0.6"/>
<polygon points="1670.5,908 1680.5,900 1696.5,922 1686.5,930" fill="#d8262c" stroke="#8e1a1c" stroke-width="0.8" stroke-opacity="0.6"/>
<polygon points="1671,945 1681,937 1697,959 1687,967" fill="#f0b41e" stroke="#b07a10" stroke-width="0.8" stroke-opacity="0.6"/>
<polygon points="1700,945 1710,937 1726,959 1716,967" fill="#d8262c" stroke="#8e1a1c" stroke-width="0.8" stroke-opacity="0.6"/>
<polygon points="1612,895.6 1612,898.8 1624,900.4 1624,897.2" fill="#f0b41e" stroke="#b07a10" stroke-width="0.8" stroke-opacity="0.6"/>
<polygon points="1641,895.6 1641,898.8 1653,900.4 1653,897.2" fill="#d8262c" stroke="#8e1a1c" stroke-width="0.8" stroke-opacity="0.6"/>
<polygon points="1700,974 1700,977.6 1712,976 1712,972.4" fill="#f0b41e" stroke="#b07a10" stroke-width="0.8" stroke-opacity="0.6"/>
<polygon points="1728,974 1728,977.6 1740,976 1740,972.4" fill="#d8262c" stroke="#8e1a1c" stroke-width="0.8" stroke-opacity="0.6"/>
<polygon points="1813,909 1823,901 1839,923 1829,931" fill="#f0b41e" stroke="#b07a10" stroke-width="0.8" stroke-opacity="0.6"/>
<polygon points="1842.5,908 1852.5,900 1868.5,922 1858.5,930" fill="#d8262c" stroke="#8e1a1c" stroke-width="0.8" stroke-opacity="0.6"/>
<polygon points="1843,945 1853,937 1869,959 1859,967" fill="#f0b41e" stroke="#b07a10" stroke-width="0.8" stroke-opacity="0.6"/>
<polygon points="1872,945 1882,937 1898,959 1888,967" fill="#d8262c" stroke="#8e1a1c" stroke-width="0.8" stroke-opacity="0.6"/>
<polygon points="1784,895.6 1784,898.8 1796,900.4 1796,897.2" fill="#f0b41e" stroke="#b07a10" stroke-width="0.8" stroke-opacity="0.6"/>
<polygon points="1813,895.6 1813,898.8 1825,900.4 1825,897.2" fill="#d8262c" stroke="#8e1a1c" stroke-width="0.8" stroke-opacity="0.6"/>
<polygon points="1872,974 1872,977.6 1884,976 1884,972.4" fill="#f0b41e" stroke="#b07a10" stroke-width="0.8" stroke-opacity="0.6"/>
<polygon points="1900,974 1900,977.6 1912,976 1912,972.4" fill="#d8262c" stroke="#8e1a1c" stroke-width="0.8" stroke-opacity="0.6"/>
<rect x="850.5" y="896" width="949.5" height="82" fill="url(#hshade)"/></g>
<path d="M745 900 L806.7 900 C809 897 812 893 815 892.5 L849.5 891.7 L851 893 L851 985.8 L815 985.6 C812 985 809 982 806.7 980 L745 980 Z" fill="url(#fg)"/>
<path d="M811 895 C812 893 814 892.5 816 892.5 L849.5 891.7 L851 893 L851 985.8 L815 985.6 C813 985 811.5 984 810.5 983 Z" fill="url(#fgc)"/>
<rect x="723" y="894.2" width="30.5" height="92" rx="13" ry="12" fill="url(#fbg)"/>
<rect x="723" y="894.2" width="30.5" height="92" rx="13" ry="12" fill="url(#fbx)"/>
<rect x="731.5" y="909" width="12" height="33" rx="5" fill="#fbfbfb"/>
<rect x="745.5" y="914" width="4" height="26" fill="#7c7c7c" opacity="0.45"/>
<rect x="811" y="911" width="10" height="34" rx="3" fill="#fafafa" opacity="0.95"/>
<rect x="823" y="912" width="24" height="22" fill="#e6e6e6" opacity="0.6"/>
<path d="M602 873.3 L624.7 871.1 L665.6 873.3 L670.9 882.2 L716.2 894.7 L720.7 900.9 L721.1 975.6 L718.9 996 L667.3 998.7 L661.1 1005.8 L621.1 1006.7 L598.9 992.4 L599.8 886.7 Z" fill="url(#ng)"/>
<path d="M665.6 877.8 L670.9 882.2 L716.2 894.7 L720.7 900.9 L721.1 975.6 L718.9 996 L667.3 998.7 L660.2 975.6 L667.3 940 L668.2 909.8 Z" fill="url(#ncone)"/>
<path d="M624.7 871.1 L665.6 873.3 L668.2 909.8 L667.3 940 L660.2 975.6 L659.3 1004 L621.1 1006.7 L617.6 980 L626.4 948.9 L618.4 922.2 L619.3 909.8 Z" fill="url(#nhex)"/>
<path d="M624.7 876 L619.3 909.8 L618.4 922.2 L626.4 948.9 L623 949 L616.5 922 L617.5 909.8 L623 876 Z" fill="#f1e6c6" opacity="0.85"/>
<path d="M618.4 922.2 L626.4 948.9 L617.6 980 L615.5 950 Z" fill="#e9dab2" opacity="0.6"/>
<path d="M668.2 909.8 L667.3 940 L660.2 975.6 L664 940 Z" fill="#efe3c2" opacity="0.6"/>
</svg>

<div class="t" style="left:1029.2px;top:309.0px;transform:scaleX(0.7675)">Trenzado</div>
<div class="t" style="left:1292.84px;top:309.0px;transform:scaleX(0.781)">de</div>
<div class="t" style="left:1376.38px;top:309.0px;transform:scaleX(0.81)">aluminio</div>
<div class="t" style="left:961.51px;top:379.0px;transform:scaleX(0.7947)">sobre</div>
<div class="t" style="left:1131.87px;top:379.0px;transform:scaleX(0.7766)">manguera</div>
<div class="t" style="left:1420.43px;top:379.0px;transform:scaleX(0.7848)">de</div>
<div class="t" style="left:1504.67px;top:379.0px;transform:scaleX(0.6653)">PVC</div>
<div class="t" style="left:55.3px;top:847.1px;transform:scaleX(0.7607)">Tuercas</div>
<div class="t" style="left:280.43px;top:847.1px;transform:scaleX(0.7848)">de</div>
<div class="t" style="left:363.95px;top:847.1px;transform:scaleX(0.8373)">latón</div>
<div class="t" style="left:292.95px;top:1151.1px;transform:scaleX(0.7899)">Férulas</div>
<div class="t" style="left:512.23px;top:1151.1px;transform:scaleX(0.7861)">de</div>
<div class="t" style="left:292.39px;top:1220.95px;transform:scaleX(0.8054)">acero</div>
<div class="t" style="left:463.95px;top:1220.95px;transform:scaleX(0.8133)">inoxidable</div>

</body></html>
